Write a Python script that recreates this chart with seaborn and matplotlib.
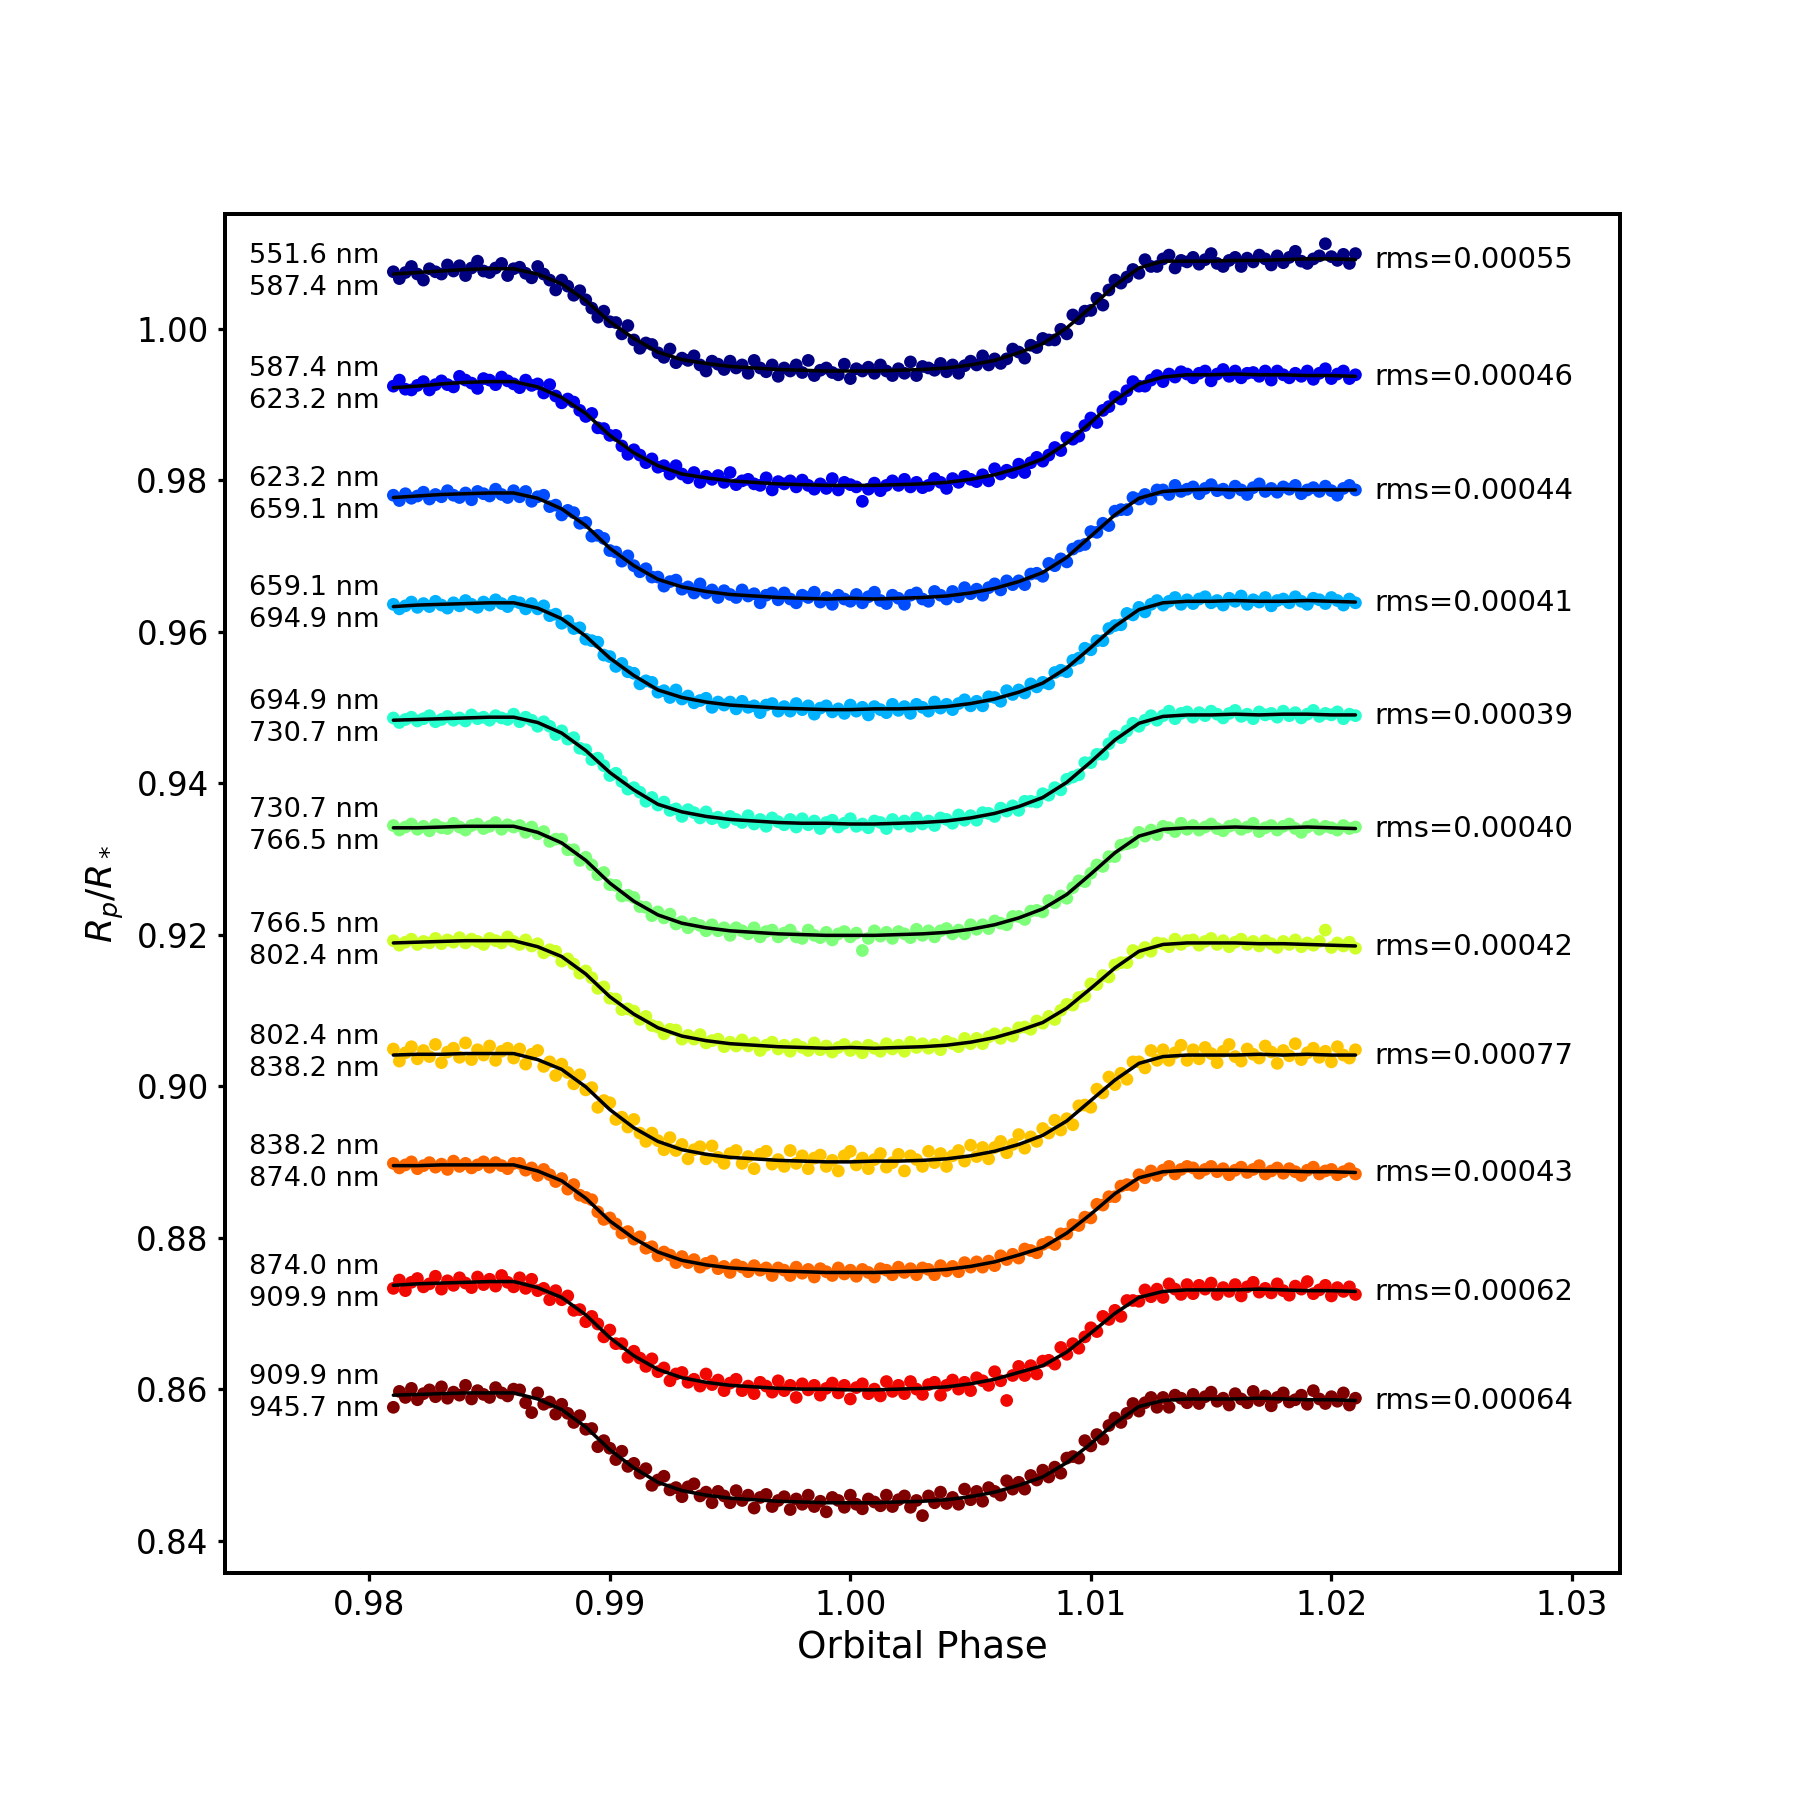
import numpy as np
import pandas as pd
import matplotlib
matplotlib.use("Agg")
import matplotlib.pyplot as plt
import seaborn as sns

# ---------------- data ----------------
bin_edges_nm = [551.6, 587.4, 623.2, 659.1, 694.9, 730.7, 766.5, 802.4, 838.2, 874.0, 909.9, 945.7]
rms_labels = ["0.00055", "0.00046", "0.00044", "0.00041", "0.00039", "0.00040",
              "0.00042", "0.00077", "0.00043", "0.00062", "0.00064"]
# in-transit minimum level of each curve (flux values below are in units of 1e-4 above it)
curve_base = [0.9944, 0.9793, 0.9643, 0.9497, 0.9346, 0.9199, 0.9050, 0.8900, 0.8754, 0.8599, 0.8450]

obs_phase = np.round(np.linspace(0.981, 1.021, 161), 5)
model_phase = np.round(np.linspace(0.981, 1.021, 41), 4)

obs_1 = [131,122,130,138,128,120,135,131,128,140, 132,139,126,136,145,132,130,136,142,126,
         135,137,129,123,138,128,120,107,120,112, 100,106,94,83,71,79,65,64,49,60,
         41,30,37,35,24,18,29,11,17,14, 20,8,0,13,9,2,13,4,8,-3,
         14,4,-1,8,-7,4,0,8,-2,14, -6,1,4,-2,-5,9,-10,3,0,5,
         -3,8,0,-6,3,-3,12,-6,6,4, 1,10,-1,8,-3,7,13,8,20,8,
         16,10,16,29,25,17,34,31,43,41, 41,55,49,74,69,79,80,96,87,107,
         120,116,124,134,129,147,138,138,148,153, 136,146,144,150,141,147,155,142,138,146,
         150,138,149,144,153,148,140,152,143,150, 158,145,142,148,152,168,151,146,154,142,155]
obs_2 = [131,139,127,126,132,137,126,133,138,133, 130,144,139,135,128,141,139,133,143,138,
         134,129,139,132,134,122,133,118,109,114, 110,99,91,95,76,75,66,66,52,41,
         47,40,30,35,24,26,15,26,15,10, 17,4,12,8,13,4,17,1,6,8,
         2,0,10,-6,5,2,6,-2,7,0, -5,2,-4,9,-6,4,1,-2,-21,-5,
         3,-7,0,6,0,8,-2,4,-3,0, 9,4,-4,9,4,12,8,5,14,6,
         22,15,20,17,28,17,30,37,32,40, 50,46,63,61,65,79,89,83,99,104,
         117,114,125,137,131,131,139,145,137,147, 143,150,147,142,148,151,138,147,153,144,
         151,142,148,149,144,151,139,151,146,142, 148,144,151,140,148,154,141,147,151,141,146]
obs_3 = [137,130,139,133,136,141,132,138,135,143, 137,134,140,131,142,139,136,145,138,134,
         143,135,142,129,135,137,122,124,111,117, 114,100,101,83,84,80,64,62,50,57,
         44,36,40,29,29,17,23,25,13,16, 8,20,8,12,2,11,6,2,12,4,
         7,-5,5,8,-1,8,0,-5,5,2, 9,-4,2,-7,5,0,-3,6,-5,3,
         9,-2,-6,5,1,-7,5,8,0,-3, 10,5,0,10,3,15,7,13,5,15,
         20,12,24,19,24,19,33,34,30,47, 44,53,49,66,70,72,89,88,100,97,
         116,118,118,134,132,138,132,144,144,138, 150,142,145,148,139,146,151,143,145,140,
         149,144,138,147,152,142,146,141,148,145, 150,139,144,147,142,149,143,137,146,150,144]
obs_4 = [139,133,137,142,135,140,136,143,138,134, 141,137,144,139,135,142,138,145,140,136,
         143,141,133,140,133,137,124,126,114,117, 107,108,93,91,89,72,70,57,61,50,
         48,34,38,36,23,25,16,26,14,18, 9,12,15,3,10,6,10,1,11,3,
         5,-4,6,8,-2,4,-2,8,0,5, -6,2,5,-3,1,-5,6,-2,3,-7,
         4,0,-4,7,-1,4,-5,7,3,-2, 10,2,7,0,8,13,5,11,5,17,
         16,11,25,20,26,22,34,30,36,34, 49,52,50,65,68,81,79,91,91,107,
         111,112,127,125,135,129,139,144,138,143, 148,139,145,140,146,149,141,144,138,147,
         143,150,139,145,142,148,137,144,146,141, 149,143,139,147,145,140,148,144,138,146,141]
obs_5 = [140,134,138,141,136,139,143,135,138,142, 137,140,136,144,139,141,137,143,140,138,
         145,135,141,137,129,135,129,118,123,112, 114,100,98,85,87,77,64,67,56,46,
         48,42,30,35,25,29,18,20,10,19, 15,8,16,7,9,2,10,6,2,11,
         0,6,-3,8,3,-1,6,-4,7,-1, 4,-6,2,5,-4,1,7,-3,0,-5,
         4,2,-6,6,0,4,-3,8,0,4, -2,8,6,1,12,5,11,5,15,14,
         10,21,17,24,18,30,30,29,40,38, 48,45,59,62,65,81,81,92,92,106,
         116,114,123,133,129,137,143,137,143,149, 139,146,148,141,147,143,149,145,140,146,
         150,142,145,139,148,144,146,141,149,143, 147,140,145,150,142,146,144,148,139,145,143]
obs_6 = [145,139,143,147,140,144,138,146,142,141, 148,143,139,145,147,141,144,149,140,146,
         143,145,136,143,134,137,124,127,127,113, 113,99,103,93,80,83,67,66,52,53,
         50,38,37,26,31,23,28,15,18,10, 16,13,6,14,6,10,0,10,6,2,
         10,-2,5,7,-2,3,7,-2,-4,7, 0,-3,4,-6,2,5,-2,3,-20,-4,
         6,-1,4,-4,5,2,-3,8,0,6, -2,6,9,2,7,2,14,8,14,9,
         19,16,14,25,25,21,32,33,31,46, 43,52,49,63,72,71,82,93,91,104,
         104,119,121,123,136,131,139,133,144,142, 137,148,140,145,139,143,147,141,138,144,
         146,140,143,148,137,142,145,139,144,147, 141,136,143,146,140,144,142,139,145,141,143]
obs_7 = [142,136,140,144,137,141,139,145,138,143, 140,146,139,144,141,137,145,142,139,147,
         141,137,143,135,138,126,130,128,115,118, 111,99,102,93,79,81,66,65,51,52,
         49,38,42,30,28,19,25,24,12,17, 12,18,7,10,12,2,8,3,11,3,
         7,-3,4,8,-1,4,-4,5,1,-3, 7,-2,3,-5,1,5,-3,2,-6,4,
         0,-4,6,-1,4,-4,8,1,6,0, 5,-2,9,6,2,13,6,13,6,15,
         19,13,20,16,27,28,25,36,33,42, 38,50,58,57,67,69,85,84,96,94,
         110,113,113,129,126,133,128,139,138,134, 144,137,142,143,136,141,145,137,142,134,
         140,144,137,141,135,142,138,133,141,137, 143,134,139,136,141,156,133,139,135,140,132]
obs_8 = [149,133,144,152,136,147,139,155,131,145, 150,138,157,135,148,141,153,134,146,150,
         137,149,129,142,147,126,132,114,129,118, 103,115,95,98,72,81,78,56,59,46,
         56,38,27,38,28,16,32,15,23,4, 16,20,4,21,6,-2,11,15,-2,7,
         -9,10,14,-3,3,-6,15,-2,8,-9, 5,9,-6,2,-12,8,14,-4,5,-9,
         3,11,-7,-1,10,-12,8,3,-6,14, -1,11,-6,8,15,1,22,7,19,4,
         19,27,12,23,36,18,33,27,44,38, 55,42,57,49,74,75,72,96,91,112,
         102,117,109,132,132,124,147,134,148,134, 144,154,134,148,136,151,143,131,146,155,
         139,133,149,142,137,153,145,130,147,140, 156,135,144,150,138,146,132,152,141,137,148]
obs_9 = [144,138,142,146,137,141,145,139,143,136, 147,140,144,138,142,146,139,145,141,137,
         144,144,135,138,128,136,129,120,124,110, 116,102,99,96,80,70,72,64,52,54,
         44,47,32,34,22,27,23,13,21,13, 17,7,12,15,5,8,0,10,7,1,
         9,3,6,-4,6,3,-4,7,-1,4, -6,5,1,-4,6,-2,3,-5,4,0,
         -6,5,3,-3,7,0,5,-3,6,4, -3,9,2,8,1,13,7,14,7,15,
         9,22,17,24,19,31,29,26,37,40, 37,51,51,63,62,73,72,90,89,100,
         100,114,116,115,129,125,134,128,135,140, 130,136,140,138,131,136,140,133,137,129,
         135,139,132,136,141,130,134,138,131,137, 133,128,135,139,130,134,136,129,133,137,130]
obs_10 = [134,145,131,142,147,136,140,150,133,144, 138,148,141,135,149,139,146,137,151,142,
          136,148,134,146,131,134,119,131,119,124, 105,106,90,97,87,70,79,61,61,43,
          51,42,31,41,24,29,12,21,23,10, 14,5,21,7,13,-1,9,14,-1,5,
          -5,10,5,-3,12,-1,6,-10,8,0, 6,-7,2,9,-4,6,-12,3,8,-5,
          1,-8,11,-2,6,-5,11,1,-6,7, 10,-7,6,13,1,10,-1,16,12,6,
          24,12,-14,19,31,19,32,21,38,39, 34,56,47,61,55,70,82,77,97,93,
          105,97,118,118,117,132,123,133,122,140, 133,126,139,127,138,133,141,126,135,130,
          139,124,136,142,129,134,128,140,131,125, 137,133,143,127,132,138,124,135,130,136,126]
obs_11 = [126,147,139,151,136,144,149,140,153,138, 146,142,155,137,148,143,139,152,145,141,
          150,149,132,119,145,130,133,117,130,118, 106,115,97,98,74,82,72,57,68,48,
          52,39,45,23,30,35,17,20,8,21, 25,9,14,0,15,9,0,16,3,10,
          -7,7,11,-5,3,8,-9,5,-2,10, -5,2,-12,7,3,-6,10,-2,-8,5,
          1,-4,10,-5,4,9,-6,3,-17,9, 0,14,-1,7,-2,18,4,15,2,20,
          15,10,29,18,27,18,36,30,43,34, 47,39,59,61,59,82,75,90,84,102,
          112,106,118,131,121,132,139,126,139,126, 142,138,132,143,131,140,146,134,138,129,
          144,137,132,147,135,141,128,139,145,133, 136,142,130,148,137,131,140,134,145,129,138]

model_1 = [128,130,132,134,135,135,128,115,93,65,43,25,15,10,6,4,2,1,0,0,0,1,2,4,8,14,24,
           36,57,84,113,136,145,145,145,146,146,147,148,148,147]
model_2 = [129,131,134,136,137,137,130,116,95,66,43,26,15,10,6,4,2,1,0,0,0,1,2,4,8,14,23,
           35,56,83,112,134,143,146,146,147,146,146,145,145,144]
model_3 = [134,136,138,139,140,140,133,119,97,67,44,26,16,10,6,4,2,1,0,1,0,1,2,4,8,14,23,
           35,55,83,111,133,142,144,145,144,145,145,144,144,144]
model_4 = [136,138,139,140,141,141,134,120,97,68,45,26,16,10,6,4,2,1,0,0,1,1,2,4,8,14,23,
           35,55,82,110,132,141,143,143,144,143,143,144,143,142]
model_5 = [137,138,139,140,141,141,134,120,97,68,45,26,16,10,6,4,2,1,1,0,0,1,2,4,8,14,23,
           35,55,82,111,133,142,144,144,145,144,145,145,144,144]
model_6 = [142,142,143,144,144,144,136,122,99,69,45,27,16,10,6,4,2,1,0,0,0,1,2,4,8,14,23,
           35,54,81,109,131,140,142,142,143,142,142,143,142,141]
model_7 = [139,140,141,142,142,142,134,121,98,68,45,27,16,10,6,4,2,1,0,1,0,1,2,4,8,14,23,
           34,53,79,106,128,137,139,139,139,138,138,137,136,135]
model_8 = [141,142,142,143,143,143,135,122,99,69,45,27,16,10,6,4,2,1,0,0,1,1,2,4,8,14,23,
           35,54,81,108,130,139,141,141,141,142,141,142,141,141]
model_9 = [141,141,142,142,142,142,134,121,98,68,45,27,16,10,6,4,2,1,0,0,0,1,2,4,8,14,23,
           33,52,77,104,125,133,135,135,135,134,134,133,133,132]
model_10 = [138,140,141,142,143,143,135,122,99,69,45,27,16,10,6,4,2,1,1,0,0,1,2,4,8,14,23,
            32,50,75,101,122,130,132,132,132,133,132,131,131,130]
model_11 = [142,143,144,145,145,145,137,123,100,70,46,27,16,10,6,4,2,1,0,0,0,1,2,4,8,14,23,
            34,53,78,105,127,135,137,137,137,138,137,136,136,135]

obs_all = [obs_1, obs_2, obs_3, obs_4, obs_5, obs_6, obs_7, obs_8, obs_9, obs_10, obs_11]
model_all = [model_1, model_2, model_3, model_4, model_5, model_6, model_7, model_8,
             model_9, model_10, model_11]

x_ticks = [0.98, 0.99, 1.00, 1.01, 1.02, 1.03]
y_ticks = [0.84, 0.86, 0.88, 0.90, 0.92, 0.94, 0.96, 0.98, 1.00]

# ---------------- tables ----------------
obs_rows, model_rows = [], []
for i in range(11):
    for p, v in zip(obs_phase, obs_all[i]):
        obs_rows.append((i, p, curve_base[i] + v * 1e-4))
    for p, v in zip(model_phase, model_all[i]):
        model_rows.append((i, p, curve_base[i] + v * 1e-4))
obs_df = pd.DataFrame(obs_rows, columns=["curve", "phase", "flux"])
model_df = pd.DataFrame(model_rows, columns=["curve", "phase", "flux"])

# ---------------- style ----------------
sns.set_style("ticks")
plt.rcParams["font.family"] = ["DejaVu Sans"]
plt.rcParams["mathtext.fontset"] = "dejavusans"
for k in ["axes.edgecolor", "xtick.color", "ytick.color", "text.color", "axes.labelcolor"]:
    plt.rcParams[k] = "black"

fig, ax = plt.subplots(figsize=(10, 10), dpi=180)
fig.subplots_adjust(left=0.125, right=0.9, bottom=0.126, top=0.881)

colors = plt.get_cmap("jet")(np.linspace(0, 1, 11))

for i in range(11):
    d = obs_df[obs_df["curve"] == i]
    m = model_df[model_df["curve"] == i]
    sns.scatterplot(data=d, x="phase", y="flux", color=colors[i], s=26, linewidth=0,
                    edgecolor="none", ax=ax, legend=False, zorder=2)
    sns.lineplot(data=m, x="phase", y="flux", color="black", linewidth=1.4, ax=ax,
                 estimator=None, sort=False, legend=False, zorder=3)
    lo, hi = bin_edges_nm[i], bin_edges_nm[i + 1]
    ax.text(0.975, m["flux"].iloc[0] + 0.0003, f"{lo:.1f} nm\n{hi:.1f} nm",
            fontsize=10.9, ha="left", va="center", linespacing=1.3)
    ax.text(1.0218, m["flux"].iloc[-1] - 0.0001, f"rms={rms_labels[i]}",
            fontsize=11.6, ha="left", va="center")

ax.set_xlim(0.974, 1.032)
ax.set_ylim(0.8357, 1.0151)
ax.set_xticks(x_ticks)
ax.set_xticklabels([f"{t:.2f}" for t in x_ticks])
ax.set_yticks(y_ticks)
ax.set_yticklabels([f"{t:.2f}" for t in y_ticks])
ax.tick_params(labelsize=13, length=3, width=1.3, direction="out")
for s in ax.spines.values():
    s.set_linewidth(1.6)
    s.set_visible(True)
ax.set_xlabel("Orbital Phase", fontsize=15, labelpad=3)
ax.set_ylabel(r"$R_p/R_*$", fontsize=14.5)

fig.savefig("out.png", dpi=180)
